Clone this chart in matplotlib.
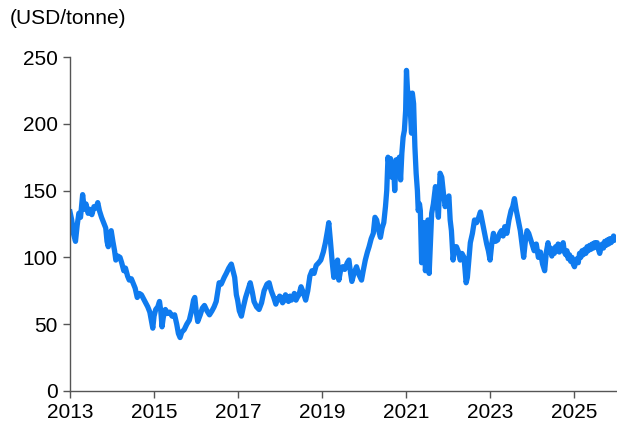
"""Price history chart, USD/tonne, 2013-2026."""

import matplotlib

matplotlib.use("Agg")

import matplotlib.pyplot as plt

# fractional year and price (USD/tonne)
years = [
    2013.00, 2013.04, 2013.08, 2013.13, 2013.17, 2013.21, 2013.25, 2013.30, 2013.34, 2013.38,
    2013.43, 2013.47, 2013.52, 2013.57, 2013.62, 2013.66, 2013.70, 2013.75, 2013.80, 2013.85,
    2013.88, 2013.91, 2013.95, 2013.98, 2014.02, 2014.06, 2014.09, 2014.14, 2014.19, 2014.23,
    2014.28, 2014.32, 2014.37, 2014.41, 2014.46, 2014.51, 2014.55, 2014.60, 2014.65, 2014.70,
    2014.75, 2014.80, 2014.85, 2014.90, 2014.94, 2014.97, 2015.00, 2015.04, 2015.09, 2015.13,
    2015.16, 2015.19, 2015.22, 2015.27, 2015.32, 2015.37, 2015.43, 2015.49, 2015.54, 2015.58,
    2015.62, 2015.66, 2015.72, 2015.78, 2015.84, 2015.90, 2015.94, 2015.97, 2016.01, 2016.04,
    2016.10, 2016.15, 2016.20, 2016.26, 2016.32, 2016.38, 2016.43, 2016.48, 2016.52, 2016.55,
    2016.60, 2016.67, 2016.72, 2016.78, 2016.84, 2016.88, 2016.92, 2016.96, 2016.99, 2017.03,
    2017.08, 2017.12, 2017.18, 2017.24, 2017.29, 2017.34, 2017.38, 2017.44, 2017.50, 2017.56,
    2017.62, 2017.69, 2017.74, 2017.79,
    2017.85, 2017.88, 2017.90, 2017.93, 2017.96, 2017.99, 2018.03, 2018.06, 2018.10, 2018.13,
    2018.17, 2018.20, 2018.24, 2018.27, 2018.31, 2018.34, 2018.38, 2018.41, 2018.45,
    2018.50, 2018.55, 2018.61, 2018.66, 2018.71, 2018.76,
    2018.81, 2018.86, 2018.92, 2018.97, 2019.03, 2019.08, 2019.13, 2019.16, 2019.20, 2019.24,
    2019.28, 2019.33, 2019.37, 2019.40, 2019.44, 2019.49, 2019.54, 2019.60, 2019.64, 2019.68,
    2019.71, 2019.76, 2019.82, 2019.88, 2019.94, 2019.98, 2020.03, 2020.08, 2020.12, 2020.17,
    2020.22, 2020.26, 2020.30, 2020.35, 2020.39, 2020.43, 2020.47, 2020.51, 2020.54, 2020.57,
    2020.60, 2020.63, 2020.66, 2020.70, 2020.73, 2020.76, 2020.80, 2020.84, 2020.87, 2020.90,
    2020.93, 2020.96, 2020.99, 2021.01, 2021.03, 2021.06, 2021.08, 2021.11, 2021.13, 2021.15,
    2021.18, 2021.21, 2021.24, 2021.27, 2021.29, 2021.32, 2021.34, 2021.37, 2021.40, 2021.43,
    2021.46, 2021.49, 2021.52, 2021.55, 2021.58, 2021.61, 2021.65, 2021.70, 2021.74, 2021.77,
    2021.81, 2021.85, 2021.89, 2021.93, 2021.97, 2022.02, 2022.05, 2022.08, 2022.12, 2022.16,
    2022.20, 2022.25, 2022.29, 2022.33, 2022.38, 2022.43, 2022.46, 2022.50, 2022.53, 2022.58,
    2022.63, 2022.68, 2022.73, 2022.77, 2022.82, 2022.87, 2022.92, 2022.96, 2023.00, 2023.04,
    2023.08, 2023.13, 2023.18, 2023.23, 2023.27, 2023.31, 2023.35, 2023.40, 2023.45, 2023.50,
    2023.54, 2023.58, 2023.62, 2023.67, 2023.72, 2023.76, 2023.80, 2023.84, 2023.88, 2023.92,
    2023.96, 2024.00, 2024.05, 2024.10, 2024.15, 2024.20, 2024.25, 2024.30, 2024.34,
    2024.38, 2024.41, 2024.44, 2024.47, 2024.50, 2024.53, 2024.56, 2024.59, 2024.62, 2024.65,
    2024.68, 2024.71, 2024.74, 2024.77, 2024.80, 2024.83, 2024.86, 2024.89, 2024.92, 2024.95,
    2024.98, 2025.01, 2025.04, 2025.07, 2025.10, 2025.13, 2025.16, 2025.19, 2025.22, 2025.25,
    2025.28, 2025.31, 2025.34, 2025.37, 2025.40, 2025.43, 2025.46, 2025.49, 2025.52, 2025.55,
    2025.58, 2025.61, 2025.64, 2025.67, 2025.70, 2025.73, 2025.76, 2025.79, 2025.82, 2025.85,
    2025.88, 2025.91, 2025.94, 2025.97,
]
price = [
    134, 128, 118, 112, 124, 133, 130, 147, 136, 140,
    133, 136, 132, 138, 137, 141, 135, 130, 126, 122,
    112, 108, 116, 120, 112, 105, 98, 101, 100, 96,
    90, 92, 86, 83, 84, 80, 77, 70, 73, 72,
    69, 66, 63, 59, 52, 47, 56, 61, 63, 67,
    60, 48, 55, 61, 58, 59, 56, 57, 50, 43,
    40, 44, 46, 50, 53, 61, 68, 70, 58, 52,
    57, 62, 64, 60, 57, 60, 63, 67, 75, 81,
    80, 85, 88, 92, 95, 90, 85, 72, 68, 60,
    56, 62, 70, 76, 81, 74, 67, 63, 61, 66,
    75, 80, 81, 75,
    70, 67, 65, 69, 68, 71, 70, 66, 68, 72,
    69, 67, 71, 68, 70, 73, 68, 70, 72,
    78, 74, 68, 75, 86, 90,
    88, 94, 96, 98, 104, 111, 120, 126, 112, 97,
    85, 95, 98, 83, 90, 93, 91, 96, 98, 88,
    82, 88, 93, 87, 83, 90, 98, 104, 108, 114,
    118, 130, 128, 120, 115, 122, 126, 138, 150, 175,
    168, 174, 160, 170, 150, 173, 166, 175, 158, 178,
    190, 195, 210, 240, 228, 210, 223, 205, 193, 223,
    215, 183, 163, 150, 135, 140, 135, 96, 110, 126,
    90, 98, 128, 88, 110, 133, 140, 153, 140, 130,
    163, 160, 148, 138, 143, 146, 128, 120, 98, 108,
    108, 104, 98, 103, 100, 81, 85, 100, 111, 118,
    128, 126, 130, 134, 126, 118, 110, 105, 98, 110,
    118, 112, 113, 118, 120, 116, 123, 118, 128, 135,
    138, 144, 136, 128, 120, 110, 100, 112, 120, 118,
    114, 110, 105, 110, 100, 104, 95, 90, 104,
    111, 104, 107, 101, 106, 103, 108, 105, 110, 104,
    109, 106, 111, 104, 102, 105, 99, 102, 97, 100,
    95, 93, 97, 99, 96, 103, 100, 105, 102, 106,
    103, 108, 105, 109, 106, 110, 107, 111, 108, 111,
    106, 103, 107, 110, 107, 112, 109, 113, 110, 114,
    111, 113, 116, 113,
]
xticks = [2013, 2015, 2017, 2019, 2021, 2023, 2025]
yticks = [0, 50, 100, 150, 200, 250]

plt.rcParams["font.family"] = ["Liberation Sans", "DejaVu Sans"]

fig = plt.figure(figsize=(6.17, 4.32), dpi=100)
ax = fig.add_axes([0.1135, 0.095, 0.885, 0.773])

ax.plot(years, price, color="#0f7bef", lw=3.8, solid_joinstyle="round")

ax.set_xlim(2013, 2026)
ax.set_ylim(0, 250)
ax.set_xticks(xticks)
ax.set_xticklabels([str(t) for t in xticks])
ax.set_yticks(yticks)

for side in ("top", "right"):
    ax.spines[side].set_visible(False)
for side in ("left", "bottom"):
    ax.spines[side].set_color("#555555")
    ax.spines[side].set_linewidth(1.0)
ax.tick_params(direction="out", length=5, width=1, color="#555555",
               labelsize=15, labelcolor="black", pad=4)

fig.text(0.016, 0.958, "(USD/tonne)", fontsize=15, ha="left", va="center")

fig.savefig("out.png", dpi=100)
